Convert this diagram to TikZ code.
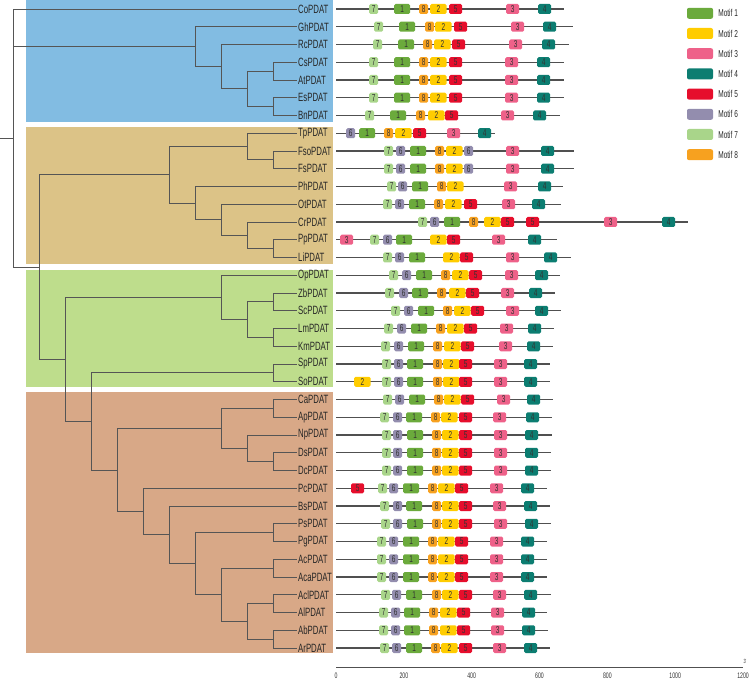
\documentclass[tikz,border=0pt]{standalone}
\usepackage{fontspec}
\newfontfamily\narrowsans[FakeStretch=0.65]{Liberation Sans}
\usepackage{tikz}
\definecolor{clade-blue}{HTML}{82BCE2}
\definecolor{clade-tan}{HTML}{DCC387}
\definecolor{clade-green}{HTML}{BEDD8C}
\definecolor{clade-salmon}{HTML}{D8A887}
\definecolor{tree-line}{HTML}{555555}
\definecolor{seq-line}{HTML}{505050}
\definecolor{motif-1}{HTML}{6BAA3C}
\definecolor{motif-2}{HTML}{FFCC00}
\definecolor{motif-3}{HTML}{EE6189}
\definecolor{motif-4}{HTML}{0C7D71}
\definecolor{motif-5}{HTML}{E60E2C}
\definecolor{motif-6}{HTML}{938DAE}
\definecolor{motif-7}{HTML}{A9D58A}
\definecolor{motif-8}{HTML}{F7A11F}
\newcommand{\motifwidth}[1]{\ifcase#1\or16\or16.5\or13\or13\or13\or9\or9\or9\fi pt}
% one sequence: row, end of line, list of motif/left edge
\newcommand{\motifrow}[3]{%
  \draw[seqline] (336,#1) coordinate (s#1) -- (#2,#1) coordinate (e#1);
  \foreach \m/\p in {#3} \node[mbox=\m] (r#1-\p) at (\p,#1) {\m};
}

\begin{document}
\begin{tikzpicture}[x=1pt, y=-1pt,
    branch/.style={draw=tree-line, line width=0.8pt},
    leaf/.style={anchor=west, inner xsep=1pt, inner ysep=0pt, text=black!85,
        font=\narrowsans\fontsize{12}{12}\selectfont},
    seqline/.style={draw=seq-line, line width=1.1pt},
    mbox/.style={anchor=west, rounded corners=1.5pt, minimum height=10pt, inner sep=0pt,
        fill=motif-#1, minimum width={\motifwidth{#1}}, text=black!80,
        font=\narrowsans\fontsize{10}{10}\selectfont},
    legkey/.style={rounded corners=2pt, minimum width=26pt, minimum height=11pt, inner sep=0pt},
    legtext/.style={anchor=west, inner sep=0pt, text=black!85, font=\narrowsans\fontsize{10}{10}\selectfont},
    ticklab/.style={inner sep=0pt, text=black!80, font=\narrowsans\fontsize{8}{8}\selectfont}]
    \useasboundingbox (0,0) rectangle (750,679);
    % clade backgrounds
    \fill[clade-blue] (26,0) rectangle (333,122);
    \fill[clade-tan] (26,127) rectangle (333,264);
    \fill[clade-green] (26,270) rectangle (333,387);
    \fill[clade-salmon] (26,392) rectangle (333,653);
    % tree and motifs, one unit per row
    \begin{scope}[yshift=-9pt, y=-17.75pt]
        \foreach \nm [count=\i from 0] in {Co,Gh,Rc,Cs,At,Es,Bn,Tp,Fso,Fs,Ph,Ot,Cr,Pp,Li,
            Op,Zb,Sc,Lm,Km,Sp,So,Ca,Ap,Np,Ds,Dc,Pc,Bs,Ps,Pg,Ac,Aca,Acl,Al,Ab,Ar}
            \node[leaf] (\nm) at (297,\i) {\nm PDAT};
        \coordinate (stub) at (0,7.27);
        \coordinate (root) at (13,7.27);
        \coordinate (nGh) at (195,2.125);
        \coordinate (nRc) at (221,3.25);
        \coordinate (nCsEs) at (247,4.5);
        \coordinate (nCs) at (273,3.5);
        \coordinate (nEs) at (273,5.5);
        \coordinate (nLow) at (39,14.54);
        \coordinate (nTan) at (169,9.34);
        \coordinate (nTp) at (247,7.75);
        \coordinate (nFso) at (273,8.5);
        \coordinate (nPh) at (195,10.9375);
        \coordinate (nOt) at (221,11.875);
        \coordinate (nCr) at (247,12.75);
        \coordinate (nPp) at (273,13.5);
        \coordinate (nGreen) at (65,19.74);
        \coordinate (nOp) at (221,16.25);
        \coordinate (nZb) at (247,17.5);
        \coordinate (nZbSc) at (273,16.5);
        \coordinate (nLm) at (273,18.5);
        \coordinate (nSp) at (91,23.23);
        \coordinate (nSpSo) at (273,20.5);
        \coordinate (nSalm) at (117,25.97);
        \coordinate (nCa) at (221,23.625);
        \coordinate (nCaAp) at (273,22.5);
        \coordinate (nNp) at (247,24.75);
        \coordinate (nDs) at (273,25.5);
        \coordinate (nPc) at (143,28.3125);
        \coordinate (nBs) at (169,29.625);
        \coordinate (nPs) at (195,31.25);
        \coordinate (nPsPg) at (273,29.5);
        \coordinate (nAc) at (221,33);
        \coordinate (nAcAca) at (273,31.5);
        \coordinate (nAcl) at (247,34.5);
        \coordinate (nAclAl) at (273,33.5);
        \coordinate (nAb) at (273,35.5);
        \draw[branch] (stub) -- (root);
        \foreach \p/\c in {root/Co.west, root/nGh, root/nLow, nGh/Gh.west, nGh/nRc,
            nRc/Rc.west, nRc/nCsEs, nCsEs/nCs, nCsEs/nEs, nCs/Cs.west, nCs/At.west,
            nEs/Es.west, nEs/Bn.west, nLow/nTan, nLow/nGreen, nTan/nTp, nTan/nPh,
            nTp/Tp.west, nTp/nFso, nFso/Fso.west, nFso/Fs.west, nPh/Ph.west, nPh/nOt,
            nOt/Ot.west, nOt/nCr, nCr/Cr.west, nCr/nPp, nPp/Pp.west, nPp/Li.west,
            nGreen/nOp, nGreen/nSp, nOp/Op.west, nOp/nZb, nZb/nZbSc, nZb/nLm,
            nZbSc/Zb.west, nZbSc/Sc.west, nLm/Lm.west, nLm/Km.west, nSp/nSpSo, nSp/nSalm,
            nSpSo/Sp.west, nSpSo/So.west, nSalm/nCa, nSalm/nPc, nCa/nCaAp, nCa/nNp,
            nCaAp/Ca.west, nCaAp/Ap.west, nNp/Np.west, nNp/nDs, nDs/Ds.west, nDs/Dc.west,
            nPc/Pc.west, nPc/nBs, nBs/Bs.west, nBs/nPs, nPs/nPsPg, nPs/nAc,
            nPsPg/Ps.west, nPsPg/Pg.west, nAc/nAcAca, nAc/nAcl, nAcAca/Ac.west,
            nAcAca/Aca.west, nAcl/nAclAl, nAcl/nAb, nAclAl/Acl.west, nAclAl/Al.west,
            nAb/Ab.west, nAb/Ar.west}
            \draw[branch] (\p) |- (\c);
        % motif structures
        \motifrow{0}{564}{7/369,1/394,8/419,2/430,5/449,3/506,4/538}
        \motifrow{1}{573}{7/374,1/399,8/425,2/435,5/454,3/511,4/543}
        \motifrow{2}{569}{7/373,1/398,8/423,2/434,5/452,3/509,4/542}
        \motifrow{3}{564}{7/369,1/394,8/419,2/430,5/449,3/505,4/537}
        \motifrow{4}{564}{7/369,1/394,8/419,2/430,5/449,3/505,4/537}
        \motifrow{5}{564}{7/369,1/394,8/419,2/430,5/449,3/505,4/537}
        \motifrow{6}{560}{7/365,1/390,8/416,2/428,5/445,3/501,4/533}
        \motifrow{7}{495}{6/346,1/359,8/384,2/395,5/413,3/447,4/478}
        \motifrow{8}{574}{7/384,6/396,1/410,8/435,2/446,6/464,3/506,4/541}
        \motifrow{9}{574}{7/384,6/396,1/410,8/435,2/446,6/464,3/506,4/541}
        \motifrow{10}{563}{7/387,6/398,1/412,8/437,2/447,3/504,4/538}
        \motifrow{11}{561}{7/383,6/395,1/409,8/434,2/445,5/464,3/502,4/532}
        \motifrow{12}{688}{7/418,6/430,1/444,8/469,2/484,5/501,5/526,3/604,4/662}
        \motifrow{13}{557}{3/340,7/370,6/383,1/396,2/430,5/447,3/492,4/528}
        \motifrow{14}{571}{7/383,6/395,1/409,2/443,5/460,3/506,4/544}
        \motifrow{15}{560}{7/389,6/402,1/416,8/441,2/452,5/469,3/505,4/535}
        \motifrow{16}{555}{7/385,6/399,1/412,8/437,2/449,5/466,3/501,4/529}
        \motifrow{17}{561}{7/391,6/404,1/418,8/443,2/454,5/471,3/506,4/535}
        \motifrow{18}{554}{7/384,6/397,1/411,8/436,2/447,5/464,3/500,4/528}
        \motifrow{19}{553}{7/381,6/394,1/408,8/433,2/444,5/461,3/499,4/527}
        \motifrow{20}{550}{7/382,6/394,1/407,8/433,2/443,5/459,3/494,4/524}
        \motifrow{21}{550}{2/354,7/382,6/394,1/407,8/433,2/443,5/459,3/494,4/524}
        \motifrow{22}{553}{7/383,6/395,1/409,8/434,2/444,5/461,3/497,4/527}
        \motifrow{23}{552}{7/380,6/393,1/406,8/431,2/441,5/459,3/493,4/526}
        \motifrow{24}{552}{7/382,6/393,1/407,8/432,2/442,5/459,3/494,4/525}
        \motifrow{25}{551}{7/382,6/393,1/407,8/432,2/442,5/459,3/494,4/525}
        \motifrow{26}{551}{7/382,6/393,1/407,8/432,2/442,5/459,3/494,4/525}
        \motifrow{27}{547}{5/351,7/378,6/389,1/403,8/428,2/438,5/455,3/490,4/521}
        \motifrow{28}{550}{7/380,6/393,1/406,8/432,2/442,5/459,3/493,4/524}
        \motifrow{29}{551}{7/381,6/393,1/407,8/432,2/442,5/459,3/494,4/525}
        \motifrow{30}{547}{7/377,6/389,1/403,8/428,2/438,5/455,3/490,4/521}
        \motifrow{31}{547}{7/377,6/389,1/403,8/428,2/438,5/455,3/490,4/521}
        \motifrow{32}{547}{7/377,6/389,1/403,8/428,2/438,5/455,3/490,4/521}
        \motifrow{33}{551}{7/381,6/392,1/406,8/432,2/442,5/459,3/493,4/524}
        \motifrow{34}{547}{7/379,6/391,1/404,8/429,2/440,5/457,3/491,4/522}
        \motifrow{35}{548}{7/379,6/391,1/404,8/429,2/440,5/457,3/491,4/522}
        \motifrow{36}{550}{7/380,6/392,1/406,8/431,2/441,5/459,3/493,4/524}
    \end{scope}
    % legend
    \foreach \n in {1,...,8} {
        \node[legkey, fill=motif-\n] (key\n) at (700,{13.3+20.2*(\n-1)}) {};
        \node[legtext] (leg\n) at ([xshift=5pt]key\n.east) {Motif \n};
    }
    % length axis
    \draw[seqline, line width=0.9pt] (336,667) coordinate (ax0) -- (743,667) coordinate (ax1);
    \foreach \v in {0,200,...,1200}
        \node[ticklab] (tick\v) at ({336+0.3392*\v},675.5) {\v};
    \node[ticklab, font=\narrowsans\fontsize{6}{6}\selectfont] (end3) at (745,661) {3'};
\end{tikzpicture}
\end{document}
